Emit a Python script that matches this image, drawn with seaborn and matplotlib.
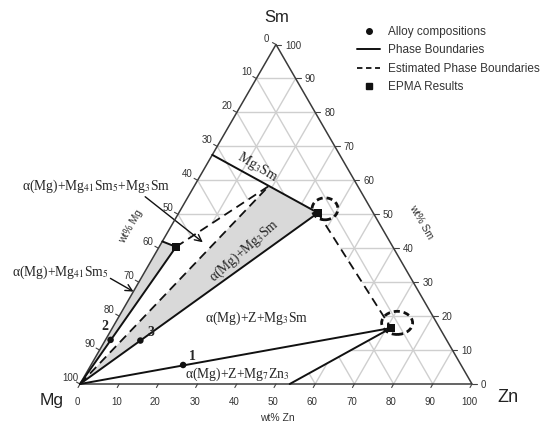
import numpy as np
import pandas as pd
import matplotlib
matplotlib.use("Agg")
import matplotlib.pyplot as plt
import seaborn as sns
from matplotlib.patches import Polygon, Ellipse
from matplotlib.lines import Line2D

sns.set_theme(style="white")
plt.rcParams['font.family'] = ['Liberation Sans', 'DejaVu Sans']
plt.rcParams['mathtext.fontset'] = 'stix'

# ---------------- data (wt% Zn, wt% Sm) ----------------
alloy_labels = ["1", "2", "3"]
alloy_zn = [23.5, 1.3, 9.0]
alloy_sm = [5.6, 13.0, 12.8]

epma_phase = ["Mg41Sm5", "Mg3Sm", "Z"]
epma_zn = [4.3, 35.5, 71.1]
epma_sm = [40.4, 50.4, 16.5]

mg41sm5_binary = [0.0, 42.0]
mg3sm_binary = [0.0, 67.5]
mg7zn3_binary = [53.5, 0.0]
tie_end = [19.0, 58.3]
mg_corner = [0.0, 0.0]

ticks = [0, 10, 20, 30, 40, 50, 60, 70, 80, 90, 100]

# ellipse (dashed circle) centres around EPMA results (Zn, Sm)
circle_zn = [36.7, 71.9]
circle_sm = [51.6, 18.0]

S3 = np.sqrt(3) / 2


def tern(zn, sm):
    zn = np.asarray(zn, dtype=float)
    sm = np.asarray(sm, dtype=float)
    return zn + sm / 2.0, sm * S3


W, H = 547, 426
fig = plt.figure(figsize=(W / 100, H / 100), dpi=100)
ax = fig.add_axes([0, 0, 1, 1])
ax.set_xlim(-80 / 3.92, (W - 80) / 3.92)
ax.set_ylim(-(H - 384) / 3.92, 384 / 3.92)
ax.axis('off')


def fp(px, py):
    return (px / W, 1 - py / H)


# ---------------- grid ----------------
grid_c = '#cfcfcf'
for v in ticks[1:-1]:
    for (z0, s0, z1, s1) in [(0, v, 100 - v, v), (v, 0, v, 100 - v), (100 - v, 0, 0, 100 - v)]:
        x, y = tern([z0, z1], [s0, s1])
        ax.plot(x, y, color=grid_c, lw=1.0, zorder=1)

# white cover of phase regions
region = [mg_corner, mg41sm5_binary, [epma_zn[0], epma_sm[0]], tie_end,
          [epma_zn[1], epma_sm[1]], [epma_zn[2], epma_sm[2]], mg7zn3_binary]
rx, ry = tern([p[0] for p in region], [p[1] for p in region])
ax.add_patch(Polygon(np.column_stack([rx, ry]), closed=True, facecolor='white',
                     edgecolor='none', zorder=2))

# grey two-phase regions
grey = '#d9d9d9'
for poly in ([mg_corner, mg41sm5_binary, [epma_zn[0], epma_sm[0]]],
             [mg_corner, tie_end, [epma_zn[1], epma_sm[1]]]):
    px_, py_ = tern([p[0] for p in poly], [p[1] for p in poly])
    ax.add_patch(Polygon(np.column_stack([px_, py_]), closed=True, facecolor=grey,
                         edgecolor='none', zorder=3))

# triangle outline
tx, ty = tern([0, 100, 0, 0], [0, 0, 100, 0])
ax.plot(tx, ty, color='#3a3a3a', lw=1.1, zorder=4)

# ---------------- phase boundaries ----------------
solid = [
    ([mg3sm_binary[0], epma_zn[1]], [mg3sm_binary[1], epma_sm[1]]),
    ([0, epma_zn[0]], [0, epma_sm[0]]),
    ([mg41sm5_binary[0], epma_zn[0]], [mg41sm5_binary[1], epma_sm[0]]),
    ([0, epma_zn[1]], [0, epma_sm[1]]),
    ([0, epma_zn[2]], [0, epma_sm[2]]),
    ([epma_zn[2], mg7zn3_binary[0]], [epma_sm[2], mg7zn3_binary[1]]),
]
dashed = [
    ([0, tie_end[0]], [0, tie_end[1]]),
    ([epma_zn[0], tie_end[0]], [epma_sm[0], tie_end[1]]),
    ([epma_zn[1], epma_zn[2]], [epma_sm[1], epma_sm[2]]),
]
for zn, sm in solid:
    x, y = tern(zn, sm)
    sns.lineplot(x=x, y=y, sort=False, estimator=None, color='#111111', lw=1.4, ax=ax, zorder=5)
for zn, sm in dashed:
    x, y = tern(zn, sm)
    sns.lineplot(x=x, y=y, sort=False, estimator=None, color='#111111', lw=1.3, ax=ax,
                 zorder=5, dashes=False, linestyle=(0, (5, 3)))

# ---------------- markers ----------------
ax_x, ax_y = tern(alloy_zn, alloy_sm)
sns.scatterplot(x=ax_x, y=ax_y, color='#111111', s=22, marker='o', ax=ax, zorder=6, edgecolor='none')
ex, ey = tern(epma_zn, epma_sm)
sns.scatterplot(x=ex, y=ey, color='#111111', s=30, marker='s', ax=ax, zorder=6, edgecolor='none')

cx, cy = tern(circle_zn, circle_sm)
for (x, y, w, h) in zip(cx, cy, [6.6, 7.9], [5.6, 5.9]):
    ax.add_patch(Ellipse((x, y), w, h, fill=False, edgecolor='#111111', lw=2.0,
                         linestyle=(0, (2.2, 1.4)), zorder=6))

# ---------------- axis ticks & labels ----------------
tick_c = '#444444'
tick_fs = 7
for v in ticks:
    # bottom (wt% Zn)
    x, y = tern(v, 0)
    ax.plot([x, x - 0.5], [y, y - 0.9], color=tick_c, lw=0.8, zorder=4)
    ax.annotate(str(v), (x, y), xytext=(-3, -18), textcoords='offset pixels',
                ha='center', va='center', fontsize=tick_fs, color='#333333')
    # right (wt% Sm)
    x, y = tern(100 - v, v)
    ax.plot([x, x + 1.3], [y, y], color=tick_c, lw=0.8, zorder=4)
    ax.annotate(str(v), (x, y), xytext=(9, -1), textcoords='offset pixels',
                ha='left', va='center', fontsize=tick_fs, color='#333333')
    # left (wt% Mg)
    x, y = tern(0, 100 - v)
    ax.plot([x, x - 0.9], [y, y + 0.5], color=tick_c, lw=0.8, zorder=4)
    ax.annotate(str(v), (x, y), xytext=(-10, 6), textcoords='offset pixels',
                ha='center', va='center', fontsize=tick_fs, color='#333333')

fig.text(*fp(277, 418), 'wt% Zn', ha='center', va='center', fontsize=7.5, color='#333333')
fig.text(*fp(421, 222), 'wt% Sm', ha='center', va='center', fontsize=7.5, color='#333333', rotation=-60)
fig.text(*fp(131, 226), 'wt% Mg', ha='center', va='center', fontsize=7.5, color='#333333', rotation=60)

fig.text(*fp(277, 18), 'Sm', ha='center', va='center', fontsize=12, color='#222222')
fig.text(*fp(52, 400), 'Mg', ha='center', va='center', fontsize=12.5, color='#222222')
fig.text(*fp(508, 397), 'Zn', ha='center', va='center', fontsize=13, color='#222222')

# ---------------- phase labels ----------------
serif = ['Liberation Serif', 'DejaVu Serif']
lab_fs = 9.8
fig.text(*fp(22, 186), r'α(Mg)+Mg$_{41}$Sm$_5$+Mg$_3$Sm', ha='left', va='center',
         fontsize=lab_fs, family=serif)
fig.text(*fp(12, 272), r'α(Mg)+Mg$_{41}$Sm$_5$', ha='left', va='center',
         fontsize=lab_fs, family=serif)
fig.text(*fp(257, 167), r'Mg$_3$Sm', ha='center', va='center', fontsize=lab_fs,
         family=serif, rotation=-31)
fig.text(*fp(244, 251), r'α(Mg)+Mg$_3$Sm', ha='center', va='center', fontsize=lab_fs,
         family=serif, rotation=41)
fig.text(*fp(257, 318), r'α(Mg)+Z+Mg$_3$Sm', ha='center', va='center', fontsize=lab_fs,
         family=serif)
fig.text(*fp(185, 374), r'α(Mg)+Z+Mg$_7$Zn$_3$', ha='left', va='center', fontsize=lab_fs,
         family=serif)

for lab, (px, py) in zip(alloy_labels, [(192, 356), (105, 327), (151, 333)]):
    fig.text(*fp(px, py), lab, ha='center', va='center', fontsize=10, family=serif,
             fontweight='bold')

# arrows
ax.annotate('', xy=fp(205, 244), xytext=fp(143, 195), xycoords='figure fraction',
            textcoords='figure fraction',
            arrowprops=dict(arrowstyle='->', color='#111111', lw=1.0))
ax.annotate('', xy=fp(136, 293), xytext=fp(108, 277), xycoords='figure fraction',
            textcoords='figure fraction',
            arrowprops=dict(arrowstyle='->', color='#111111', lw=1.0))

# ---------------- legend ----------------
handles = [
    Line2D([], [], color='#111111', marker='o', linestyle='none', markersize=4),
    Line2D([], [], color='#111111', lw=1.4),
    Line2D([], [], color='#111111', lw=1.3, linestyle=(0, (3, 2))),
    Line2D([], [], color='#111111', marker='s', linestyle='none', markersize=5),
]
labels = ['Alloy compositions', 'Phase Boundaries', 'Estimated Phase Boundaries', 'EPMA Results']
leg = ax.legend(handles, labels, loc='upper left', bbox_to_anchor=fp(357, 26),
                bbox_transform=fig.transFigure, frameon=False, fontsize=8.5,
                handlelength=1.95, handletextpad=0.68, labelspacing=0.54, borderpad=0,
                borderaxespad=0)
for t in leg.get_texts():
    t.set_color('#333333')

fig.savefig('out.png', dpi=100)
